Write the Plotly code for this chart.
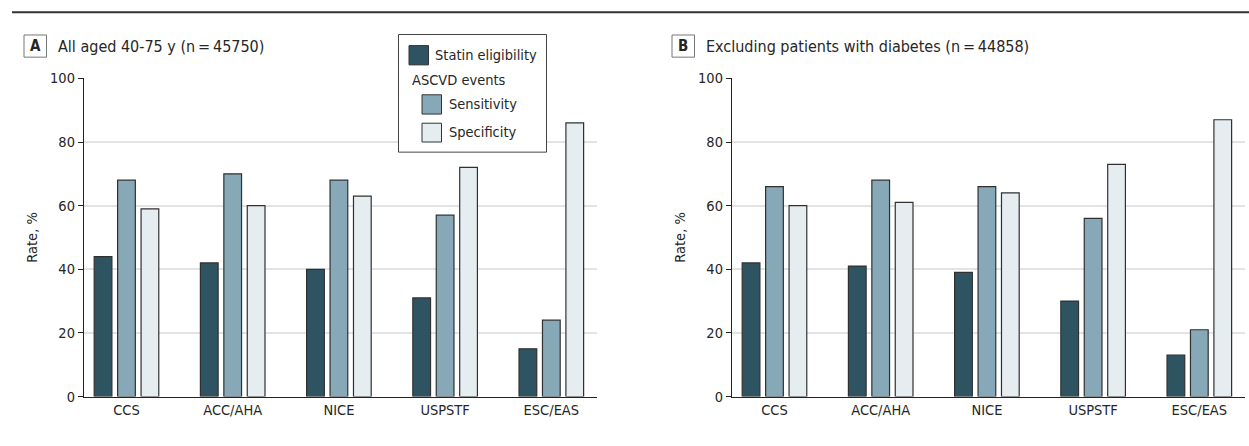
import plotly.graph_objects as go

W, H = 1249, 446

categories = ["CCS", "ACC/AHA", "NICE", "USPSTF", "ESC/EAS"]
a_statin = [44, 42, 40, 31, 15]
a_sens = [68, 70, 68, 57, 24]
a_spec = [59, 60, 63, 72, 86]
b_statin = [42, 41, 39, 30, 13]
b_sens = [66, 68, 66, 56, 21]
b_spec = [60, 61, 64, 73, 87]
series_names = ["Statin eligibility", "Sensitivity", "Specificity"]
y_ticks = [0, 20, 40, 60, 80, 100]
title_a = "All aged 40-75 y (n\u2009=\u200945750)"
title_b = "Excluding patients with diabetes (n\u2009=\u200944858)"

colors = ["#2E5461", "#86A8B7", "#E5EDF1"]
FONT = "DejaVu Sans Condensed, Liberation Sans Narrow, DejaVu Sans, sans-serif"
TXT = "#262626"


def px(x):
    return x / W


def py(y):
    return 1 - y / H


fig = go.Figure()
panels = [("x", "y", [a_statin, a_sens, a_spec]), ("x2", "y2", [b_statin, b_sens, b_spec])]
for xa, ya, series in panels:
    for name, vals, col in zip(series_names, series, colors):
        fig.add_trace(go.Bar(
            x=categories, y=vals, name=name, xaxis=xa, yaxis=ya,
            marker=dict(color=col, line=dict(color="#303030", width=1.2)),
            showlegend=False, hoverinfo="x+y+name",
        ))

xcommon = dict(
    type="category", range=[-0.4, 4.43], showline=True, linecolor="#222222", linewidth=1.3,
    ticks="", showgrid=False, zeroline=False,
    tickfont=dict(family=FONT, size=14.5, color=TXT), fixedrange=True,
)
ycommon = dict(
    range=[0, 100], tickvals=y_ticks, showline=True, linecolor="#222222", linewidth=1.3,
    ticks="outside", ticklen=5, tickcolor="#222222", tickwidth=1,
    showgrid=True, gridcolor="#E3E3E3", gridwidth=1.6, zeroline=False,
    tickfont=dict(family=FONT, size=14.5, color=TXT),
    title=dict(text="Rate, %", font=dict(family=FONT, size=14.5, color=TXT), standoff=8),
    domain=[1 - 403 / H, 1 - 73 / H], fixedrange=True,
)

fig.update_layout(
    width=W, height=H,
    margin=dict(l=0, r=0, t=0, b=0),
    paper_bgcolor="white", plot_bgcolor="white",
    barmode="group", bargap=0.338, bargroupgap=0.244,
    xaxis=dict(domain=[px(84), px(597)], anchor="y", **xcommon),
    xaxis2=dict(domain=[px(732), px(1245)], anchor="y2", **xcommon),
    yaxis=dict(anchor="x", **ycommon),
    yaxis2=dict(anchor="x2", **ycommon),
    showlegend=False,
)

shapes = []
annotations = []

# top rule
shapes.append(dict(type="line", xref="paper", yref="paper", x0=px(12), x1=px(1249), y0=py(4.5), y1=py(4.5),
                   line=dict(color="#333333", width=2)))

# panel titles
for (x0, x1, letter, tx, text) in [(24, 46.5, "A", 56, title_a), (672, 694.5, "B", 704, title_b)]:
    shapes.append(dict(type="rect", xref="paper", yref="paper", x0=px(x0), x1=px(x1), y0=py(51), y1=py(28),
                       line=dict(color="#777777", width=1), fillcolor="white"))
    annotations.append(dict(xref="paper", yref="paper", x=px((x0 + x1) / 2), y=py(39.5), text="<b>%s</b>" % letter,
                            showarrow=False, xanchor="center", yanchor="middle",
                            font=dict(family=FONT, size=15, color=TXT)))
    annotations.append(dict(xref="paper", yref="paper", x=px(tx), y=py(39.5), text=text,
                            showarrow=False, xanchor="left", yanchor="middle",
                            font=dict(family=FONT, size=16, color=TXT)))

# legend box
shapes.append(dict(type="rect", xref="paper", yref="paper", x0=px(398.5), x1=px(546.5), y0=py(149.5), y1=py(27.5),
                   line=dict(color="#444444", width=1), fillcolor="white", layer="above"))
legend_items = [
    (409, 39, 59, colors[0], 433, 49, series_names[0]),
    (422, 90, 110, colors[1], 446.5, 100, series_names[1]),
    (422, 119.5, 139, colors[2], 446.5, 129, series_names[2]),
]
for sx, sy0, sy1, col, tx, ty, label in legend_items:
    shapes.append(dict(type="rect", xref="paper", yref="paper", x0=px(sx), x1=px(sx + 19.5), y0=py(sy1), y1=py(sy0),
                       line=dict(color="#333333", width=1), fillcolor=col, layer="above"))
    annotations.append(dict(xref="paper", yref="paper", x=px(tx), y=py(ty), text=label, showarrow=False,
                            xanchor="left", yanchor="middle", font=dict(family=FONT, size=14.5, color=TXT)))
annotations.append(dict(xref="paper", yref="paper", x=px(409.5), y=py(75), text="ASCVD events", showarrow=False,
                        xanchor="left", yanchor="middle", font=dict(family=FONT, size=14.5, color=TXT)))

fig.update_layout(shapes=shapes, annotations=annotations)
fig.write_html("out.html", config={"displayModeBar": False},
               post_script="document.body.style.margin='0';document.body.style.overflow='hidden';")
